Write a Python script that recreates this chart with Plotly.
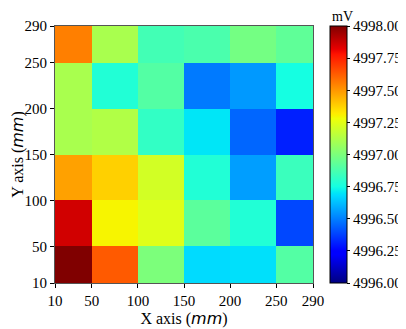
import plotly.graph_objects as go

# cell edges (mm)
x_edges = [10, 50, 100, 150, 200, 250, 290]
y_edges = [10, 50, 100, 150, 200, 250, 290]

# voltage readings (mV), rows from y=10 upward
row_10_50 = [4998.00, 4997.63, 4997.00, 4996.68, 4996.69, 4996.90]
row_50_100 = [4997.86, 4997.30, 4997.24, 4996.92, 4996.78, 4996.39]
row_100_150 = [4997.48, 4997.38, 4997.21, 4996.78, 4996.56, 4996.84]
row_150_200 = [4997.11, 4997.13, 4996.82, 4996.70, 4996.45, 4996.31]
row_200_250 = [4997.11, 4996.78, 4996.90, 4996.49, 4996.55, 4996.75]
row_250_290 = [4997.55, 4997.11, 4996.86, 4996.88, 4996.98, 4996.93]
z = [row_10_50, row_50_100, row_100_150, row_150_200, row_200_250, row_250_290]

cbar_ticks = [4996.00, 4996.25, 4996.50, 4996.75, 4997.00, 4997.25, 4997.50, 4997.75, 4998.00]

# matplotlib-style jet
jet = [
    [0.0, "rgb(0,0,128)"], [0.11, "rgb(0,0,255)"], [0.125, "rgb(0,0,255)"],
    [0.34, "rgb(0,219,255)"], [0.35, "rgb(0,230,247)"], [0.375, "rgb(21,255,226)"],
    [0.64, "rgb(239,255,8)"], [0.65, "rgb(247,245,0)"], [0.66, "rgb(255,236,0)"],
    [0.89, "rgb(255,19,0)"], [0.91, "rgb(232,0,0)"], [1.0, "rgb(128,0,0)"],
]

serif = "Liberation Serif"

fig = go.Figure(go.Heatmap(
    x=x_edges, y=y_edges, z=z,
    colorscale=jet, zmin=4996, zmax=4998,
    colorbar=dict(
        tickvals=cbar_ticks, tickformat=".2f",
        ticks="outside", ticklen=3, tickcolor="black",
        tickfont=dict(size=15, family=serif, color="black"),
        thickness=17, len=1, lenmode="fraction",
        x=1.066, xanchor="left", xpad=0, y=0.5, yanchor="middle", ypad=0,
        outlinecolor="black", outlinewidth=1,
    ),
))

# colorbar unit label sits above the bar
fig.add_annotation(text="mV", x=1.113, y=1, xref="paper", yref="paper",
                   xanchor="center", yanchor="bottom", yshift=1, showarrow=False,
                   borderpad=0, font=dict(size=14, family=serif, color="black"))

mm = "<span style=\"font-family:'DejaVu Sans'\"><i>mm</i></span>"
axis_style = dict(
    showgrid=False, zeroline=False,
    ticks="outside", ticklen=4, tickcolor="black",
    showline=True, linecolor="#555", linewidth=1, mirror=True,
    tickfont=dict(size=15, family=serif, color="black"),
)
fig.update_xaxes(tickvals=x_edges, range=[10, 290],
                 title=dict(text="X axis (" + mm + ")", font=dict(size=16, family=serif, color="black"), standoff=2),
                 **axis_style)
fig.update_yaxes(tickvals=y_edges, range=[10, 290],
                 title=dict(text="Y axis (" + mm + ")", font=dict(size=16, family=serif, color="black"), standoff=6),
                 **axis_style)

# page body adds an 8px offset, so margins are measured from there
fig.update_layout(
    width=398, height=321,
    margin=dict(l=47, r=93, t=18, b=46, autoexpand=False),
    paper_bgcolor="white", plot_bgcolor="white",
    font=dict(family=serif, color="black"),
)

fig.write_html("out.html")
